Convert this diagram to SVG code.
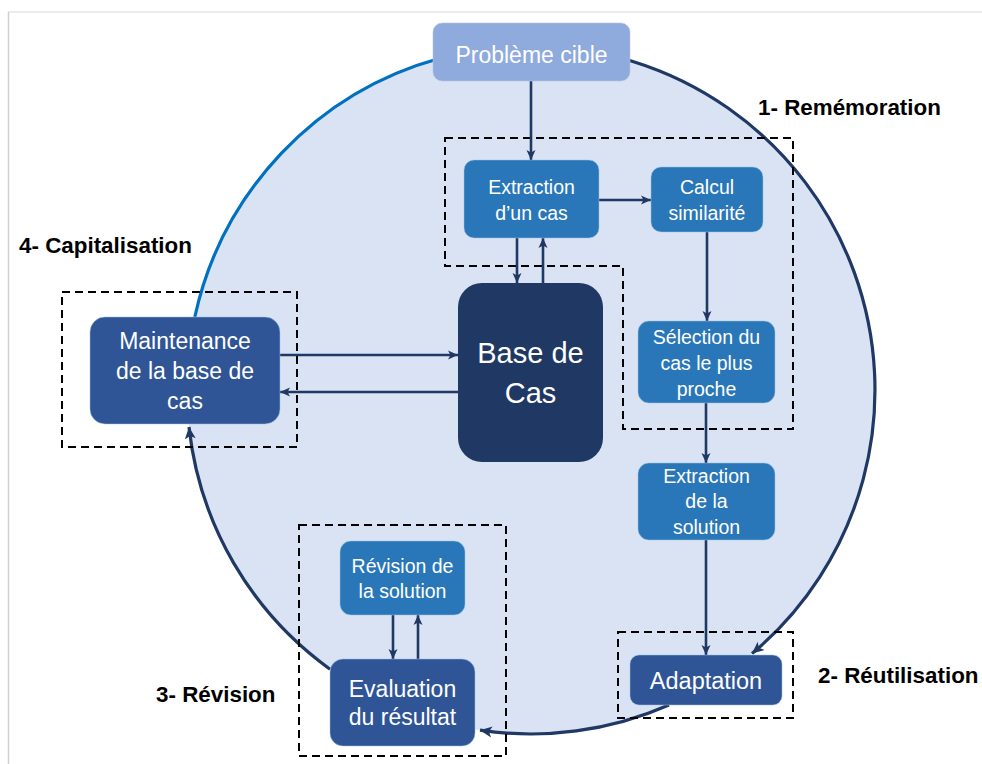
<svg xmlns="http://www.w3.org/2000/svg" width="982" height="764" viewBox="0 0 982 764">
<style>
.t{font-family:"Liberation Sans",Arial,sans-serif;fill:#fff;text-anchor:middle}
.s{font-size:19.5px}
.lbl{font-family:"Liberation Sans",Arial,sans-serif;font-weight:bold;font-size:22.4px;fill:#000}
.dash{fill:none;stroke:#000;stroke-width:2;stroke-dasharray:8 5}
.ar{fill:none;stroke:#1F3864;stroke-width:2.6;marker-end:url(#ah)}
.arc{fill:none;stroke-width:3.2}
.b1{fill:#2977B8;stroke:#9DC3E6;stroke-opacity:.5}
.b2{fill:#2F5597;stroke:#9DC3E6;stroke-opacity:.5}
</style>
<defs>
<marker id="ah" markerUnits="userSpaceOnUse" markerWidth="12" markerHeight="10" refX="10" refY="5" orient="auto">
<path d="M0,0.5 L10,5 L0,9.5 L2.5,5 z" fill="#1F3864"/>
</marker>
<marker id="ahc" markerUnits="userSpaceOnUse" markerWidth="14" markerHeight="12" refX="12" refY="6" orient="auto">
<path d="M0,0.5 L12,6 L0,11.5 L3,6 z" fill="#1F3864"/>
</marker>
</defs>
<rect width="982" height="764" fill="#fff"/>
<line x1="8" y1="12" x2="982" y2="12" stroke="#E6E6E6" stroke-width="1.5"/>
<line x1="8.5" y1="12" x2="8.5" y2="764" stroke="#D0D0D0" stroke-width="1.5"/>

<g id="cycle">
<circle cx="531" cy="390" r="344" fill="#DAE3F3"/>
<path class="arc" stroke="#1F3864" d="M531,46 A344,344 0 0 1 752,653.6" marker-end="url(#ahc)"/>
<path class="arc" stroke="#1F3864" d="M669,705 A344,344 0 0 1 480,730.2" marker-end="url(#ahc)"/>
<path class="arc" stroke="#1F3864" d="M330,669.2 A344,344 0 0 1 189,427" marker-end="url(#ahc)"/>
<path class="arc" stroke="#0070C0" d="M194.8,317 A344,344 0 0 1 440,58.3"/>
</g>

<g id="phases">
<path class="dash" d="M445,138 H793 V429 H623 V266 H445 Z"/>
<rect class="dash" x="62" y="292" width="235" height="155"/>
<rect class="dash" x="299" y="525" width="207" height="231"/>
<rect class="dash" x="618" y="632" width="175" height="86"/>
<text class="lbl" x="758" y="115">1- Remémoration</text>
<text class="lbl" x="19" y="253">4- Capitalisation</text>
<text class="lbl" x="156" y="702">3- Révision</text>
<text class="lbl" x="818" y="683">2- Réutilisation</text>
</g>

<g id="connectors">
<line class="ar" x1="531" y1="81" x2="531" y2="160"/>
<line class="ar" x1="599" y1="200" x2="651" y2="200"/>
<line class="ar" x1="517" y1="238" x2="517" y2="283"/>
<line class="ar" x1="543" y1="283" x2="543" y2="238"/>
<line class="ar" x1="707" y1="232" x2="707" y2="321"/>
<line class="ar" x1="706" y1="403" x2="706" y2="463"/>
<line class="ar" x1="706" y1="540" x2="706" y2="655"/>
<line class="ar" x1="280" y1="355" x2="458" y2="355"/>
<line class="ar" x1="458" y1="392" x2="280" y2="392"/>
<line class="ar" x1="393" y1="615" x2="393" y2="659"/>
<line class="ar" x1="418" y1="659" x2="418" y2="615"/>
</g>

<g id="probleme">
<rect x="433" y="23" width="197" height="58" rx="9" fill="#8FAADC" stroke="#B4C7E7" stroke-opacity=".6"/>
<text class="t" x="531.5" y="63" font-size="23px">Problème cible</text>
</g>
<g id="extraction-cas">
<rect class="b1" x="464" y="160" width="135" height="78" rx="10"/>
<text class="t s" x="531.5" y="194">Extraction</text>
<text class="t s" x="531.5" y="220">d’un cas</text>
</g>
<g id="calcul">
<rect class="b1" x="651" y="167" width="112" height="65" rx="10"/>
<text class="t s" x="707" y="194">Calcul</text>
<text class="t s" x="707" y="220">similarité</text>
</g>
<g id="selection">
<rect class="b1" x="638" y="321" width="137" height="82" rx="11"/>
<text class="t s" x="706.5" y="344">Sélection du</text>
<text class="t s" x="706.5" y="370">cas le plus</text>
<text class="t s" x="706.5" y="396">proche</text>
</g>
<g id="base">
<rect x="458" y="283" width="145" height="179" rx="24" fill="#1F3864"/>
<text class="t" x="530.5" y="363" font-size="29px">Base de</text>
<text class="t" x="530.5" y="403" font-size="29px">Cas</text>
</g>
<g id="maintenance">
<rect class="b2" x="90" y="317" width="190" height="107" rx="15"/>
<text class="t" x="185" y="349" font-size="23px">Maintenance</text>
<text class="t" x="185" y="379" font-size="23px">de la base de</text>
<text class="t" x="185" y="409" font-size="23px">cas</text>
</g>
<g id="extraction-solution">
<rect class="b1" x="638" y="463" width="137" height="77" rx="11"/>
<text class="t s" x="706.5" y="483">Extraction</text>
<text class="t s" x="706.5" y="508">de la</text>
<text class="t s" x="706.5" y="534">solution</text>
</g>
<g id="adaptation">
<rect class="b2" x="630" y="655" width="152" height="50" rx="9"/>
<text class="t" x="706" y="689" font-size="23.5px">Adaptation</text>
</g>
<g id="revision">
<rect class="b1" x="340" y="541" width="125" height="74" rx="11"/>
<text class="t s" x="402.5" y="573">Révision de</text>
<text class="t s" x="402.5" y="598">la solution</text>
</g>
<g id="evaluation">
<rect class="b2" x="330" y="659" width="145" height="87" rx="13"/>
<text class="t" x="402.5" y="697" font-size="23px">Evaluation</text>
<text class="t" x="402.5" y="725" font-size="23px">du résultat</text>
</g>
</svg>
